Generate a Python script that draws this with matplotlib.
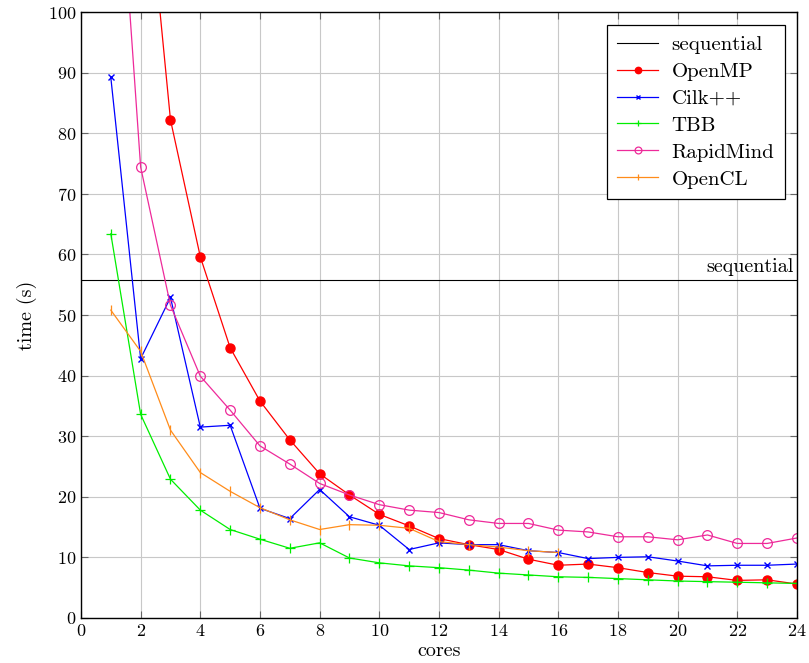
import matplotlib.pyplot as plt

plt.rcParams['font.family'] = 'cmr10'
plt.rcParams['axes.formatter.use_mathtext'] = True
plt.rcParams['mathtext.fontset'] = 'cm'

cores = list(range(1, 25))
sequential = 55.7

openmp = [220.0, 133.0, 82.2, 59.6, 44.6, 35.8, 29.4, 23.8, 20.3, 17.1, 15.2, 13.1,
          12.1, 11.3, 9.7, 8.7, 8.9, 8.3, 7.5, 6.9, 6.8, 6.2, 6.3, 5.6]
cilk = [89.2, 42.8, 52.9, 31.5, 31.8, 18.1, 16.4, 21.2, 16.7, 15.3, 11.3, 12.4,
        12.1, 12.1, 11.1, 10.8, 9.8, 10.0, 10.1, 9.4, 8.6, 8.7, 8.7, 8.9]
tbb = [63.4, 33.6, 22.9, 17.8, 14.6, 13.0, 11.5, 12.4, 9.9, 9.1, 8.6, 8.3,
       7.9, 7.4, 7.1, 6.8, 6.7, 6.5, 6.3, 6.1, 6.0, 5.9, 5.8, 5.7]
rapidmind = [145.0, 74.4, 51.6, 39.9, 34.3, 28.4, 25.4, 22.2, 20.3, 18.7, 17.8, 17.4,
             16.2, 15.6, 15.6, 14.5, 14.2, 13.4, 13.4, 12.9, 13.7, 12.3, 12.3, 13.2]
opencl_cores = list(range(1, 17))
opencl = [50.8, 44.0, 31.0, 24.0, 20.9, 18.2, 16.2, 14.6, 15.4, 15.3, 14.8, 12.6,
          12.1, 11.7, 11.1, 10.8]

fig = plt.figure(figsize=(8.09, 6.63), dpi=100)
ax = fig.add_axes([0.1001, 0.0679, 0.885, 0.914])

ax.axhline(sequential, color='black', lw=0.8, label='sequential')
ax.plot(cores, openmp, color='#ff0000', lw=0.9, marker='o', ms=6.5, label='OpenMP')
ax.plot(cores, cilk, color='#0000ff', lw=0.9, marker='x', ms=4, mew=1.0, label='Cilk++')
ax.plot(cores, tbb, color='#00ee00', lw=0.9, marker='+', ms=7, mew=0.9, label='TBB')
ax.plot(cores, rapidmind, color='#ee2a9a', lw=0.9, marker='o', ms=7, mfc='none',
        mew=0.9, label='RapidMind')
ax.plot(opencl_cores, opencl, color='#ff8c1a', lw=0.9, marker='|', ms=7, mew=0.9,
        label='OpenCL')

ax.text(23.9, sequential + 0.7, 'sequential', ha='right', va='bottom', fontsize=14.5)

ax.set_xlim(0, 24)
ax.set_ylim(0, 100)
ax.set_xticks(range(0, 25, 2))
ax.set_yticks(range(0, 101, 10))
ax.grid(True, color='#c8c8c8', lw=0.8)
ax.set_axisbelow(True)
ax.tick_params(direction='in', top=True, right=True, labelsize=13, length=5,
               color='#666666')
for s in ax.spines.values():
    s.set_linewidth(1.0)
ax.set_xlabel('cores', fontsize=14.5, labelpad=2)
ax.set_ylabel('time (s)', fontsize=14.5, labelpad=8)

leg = ax.legend(loc='upper right', fontsize=15, fancybox=False, framealpha=1,
                edgecolor='black', borderaxespad=0, handlelength=1.95,
                labelspacing=0.4, markerscale=0.7, borderpad=0.5,
                handletextpad=0.65, bbox_to_anchor=(0.983, 0.9785))
leg.get_frame().set_linewidth(0.9)

fig.savefig('out.png', dpi=100)
